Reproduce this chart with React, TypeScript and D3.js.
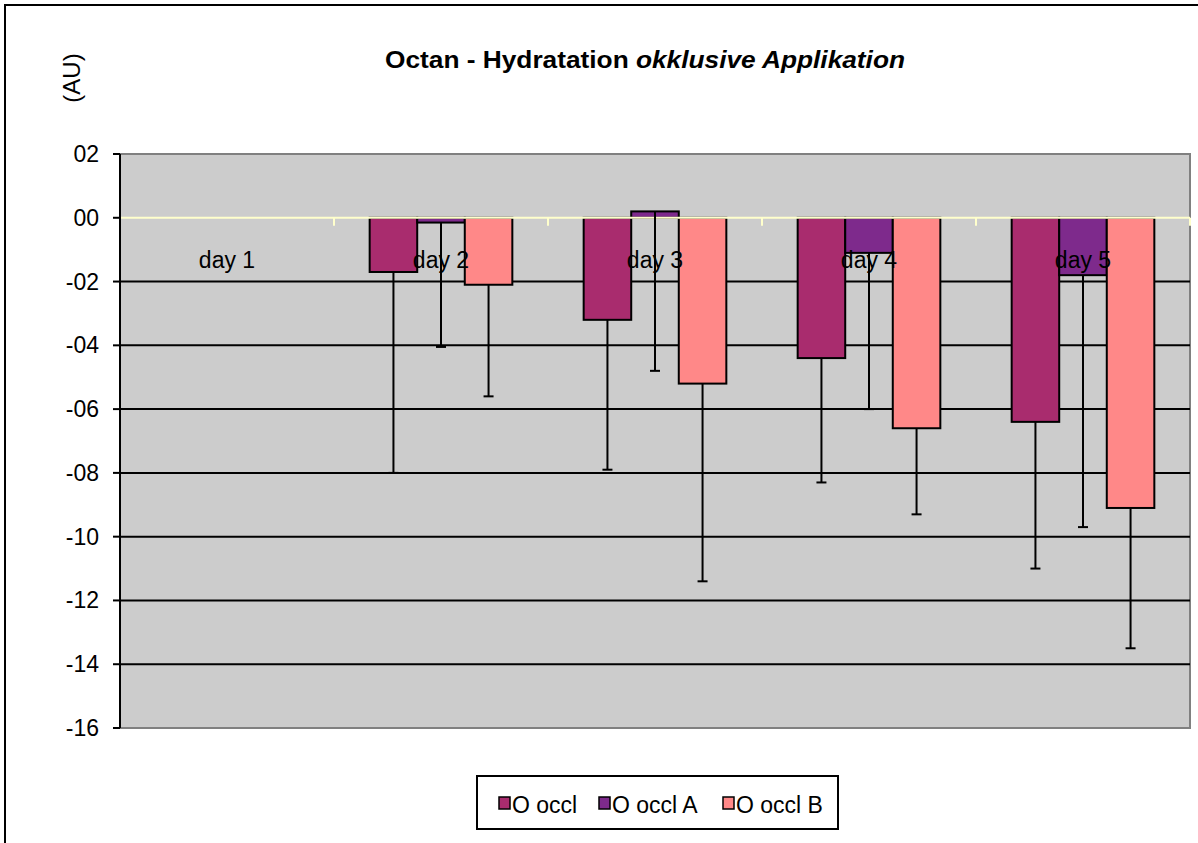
import React from "react";
import * as d3 from "d3";

const categories = ["day 1", "day 2", "day 3", "day 4", "day 5"];
const seriesNames = ["O occl", "O occl A", "O occl B"];
const seriesColors = ["#A92C6E", "#7E2A8C", "#FF8888"];
const valuesOccl = [0, -1.7, -3.2, -4.4, -6.4];
const valuesOcclA = [0, -0.15, 0.2, -1.1, -1.8];
const valuesOcclB = [0, -2.1, -5.2, -6.6, -9.1];
const errOccl = [0, 6.3, 4.7, 3.9, 4.6];
const errOcclA = [0, 3.9, 5.0, 4.9, 7.9];
const errOcclB = [0, 3.5, 6.2, 2.7, 4.4];
const yTicks = [2, 0, -2, -4, -6, -8, -10, -12, -14, -16];

const FONT = "'Liberation Sans', Arial, sans-serif";

export default function App() {
  const W = 1198, H = 843;
  const left = 120, right = 1190, top = 154, bottom = 728;
  const y = d3.scaleLinear().domain([-16, 2]).range([bottom, top]);
  const x0 = d3.scaleBand<string>().domain(categories).range([left, right]).paddingInner(0).paddingOuter(0);
  const x1 = d3.scaleBand<string>().domain(seriesNames).range([0, x0.bandwidth()]).paddingInner(0).paddingOuter(0.75);
  const values = [valuesOccl, valuesOcclA, valuesOcclB];
  const errs = [errOccl, errOcclA, errOcclB];
  const fmt = (d: number) => (d < 0 ? "-" : "") + String(Math.abs(d)).padStart(2, "0");
  const y0 = y(0);

  const bars: React.ReactNode[] = [];
  const errBars: React.ReactNode[] = [];
  categories.forEach((c, ci) => {
    seriesNames.forEach((s, si) => {
      const v = values[si][ci];
      const bx = (x0(c) as number) + (x1(s) as number);
      const bw = x1.bandwidth();
      if (v !== 0) {
        bars.push(
          <rect key={`b-${ci}-${si}`} x={bx} y={Math.min(y(v), y0)} width={bw} height={Math.abs(y(v) - y0)}
            fill={seriesColors[si]} stroke="#000" strokeWidth={2} />
        );
      }
      const e = errs[si][ci];
      if (e > 0) {
        const cx = bx + bw / 2;
        errBars.push(
          <g key={`e-${ci}-${si}`} stroke="#000" strokeWidth={2}>
            <line x1={cx} x2={cx} y1={y(v)} y2={y(v - e)} />
            <line x1={cx - 5} x2={cx + 5} y1={y(v - e)} y2={y(v - e)} />
          </g>
        );
      }
    });
  });

  const legendItems = [
    { name: seriesNames[0], sx: 499, tx: 512 },
    { name: seriesNames[1], sx: 599, tx: 612 },
    { name: seriesNames[2], sx: 723, tx: 736 },
  ];

  return (
    <svg width={W} height={H} style={{ position: "absolute", left: 0, top: 0, background: "#fff" }} fontFamily={FONT}>
      <rect x={0} y={0} width={W} height={H} fill="#fff" />
      <rect x={5} y={5} width={1210} height={860} fill="none" stroke="#000" strokeWidth={2} />
      <text x={385} y={68} fontSize={24} fontWeight="bold" textLength={520} lengthAdjust="spacingAndGlyphs">
        Octan - Hydratation <tspan fontStyle="italic">okklusive Applikation</tspan>
      </text>
      <text transform={`translate(80,78) rotate(-90)`} textAnchor="middle" fontSize={24}>(AU)</text>
      {/* plot area */}
      <rect x={left} y={top} width={right - left} height={bottom - top} fill="#CCCCCC" stroke="#808080" strokeWidth={2} />
      {yTicks.filter(t => t !== 0 && t !== 2 && t !== -16).map(t => (
        <line key={`g${t}`} x1={left} x2={right} y1={y(t)} y2={y(t)} stroke="#000" strokeWidth={2} />
      ))}
      {bars}
      {/* category axis */}
      <line x1={left} x2={right} y1={y0} y2={y0} stroke="#FFFFCC" strokeWidth={2} />
      {categories.map((c, i) => (
        <line key={`ct${i}`} x1={(x0(c) as number) + x0.bandwidth()} x2={(x0(c) as number) + x0.bandwidth()} y1={y0} y2={y0 + 8} stroke="#FFFFCC" strokeWidth={2} />
      ))}
      {errBars}
      {categories.map(c => (
        <text key={`cl${c}`} x={(x0(c) as number) + x0.bandwidth() / 2} y={y0 + 50} textAnchor="middle" fontSize={23}>{c}</text>
      ))}
      {/* value axis */}
      <line x1={left} x2={left} y1={top} y2={bottom} stroke="#000" strokeWidth={2} />
      {yTicks.map(t => (
        <g key={`yt${t}`}>
          <line x1={left - 7} x2={left} y1={y(t)} y2={y(t)} stroke="#000" strokeWidth={2} />
          <text x={99} y={y(t) + 8} textAnchor="end" fontSize={23}>{fmt(t)}</text>
        </g>
      ))}
      {/* legend */}
      <rect x={477} y={776} width={361} height={53} fill="#fff" stroke="#000" strokeWidth={2} />
      {legendItems.map((it, i) => (
        <g key={`lg${i}`}>
          <rect x={it.sx} y={797} width={11} height={12} fill={seriesColors[i]} stroke="#000" strokeWidth={1.5} />
          <text x={it.tx} y={813} fontSize={23}>{it.name}</text>
        </g>
      ))}
    </svg>
  );
}
